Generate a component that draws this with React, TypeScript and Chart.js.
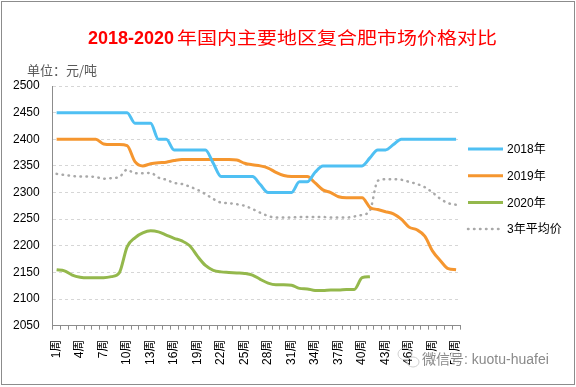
import { useEffect, useRef } from 'react';
import { Chart, registerables } from 'chart.js';

Chart.register(...registerables);

const TITLE = '2018-2020年国内主要地区复合肥市场价格对比';
const UNIT_LABEL = '单位：元/吨';
const WATERMARK = '微信号: kuotu-huafei';

const weeks = [
  '1周', '2周', '3周', '4周', '5周', '6周', '7周', '8周', '9周', '10周',
  '11周', '12周', '13周', '14周', '15周', '16周', '17周', '18周', '19周', '20周',
  '21周', '22周', '23周', '24周', '25周', '26周', '27周', '28周', '29周', '30周',
  '31周', '32周', '33周', '34周', '35周', '36周', '37周', '38周', '39周', '40周',
  '41周', '42周', '43周', '44周', '45周', '46周', '47周', '48周', '49周', '50周',
  '51周', '52周',
];

const seriesNames = ['2018年', '2019年', '2020年', '3年平均价'];

const price2018 = [
  2450, 2450, 2450, 2450, 2450, 2450, 2450, 2450, 2450, 2450,
  2430, 2430, 2430, 2400, 2400, 2380, 2380, 2380, 2380, 2380,
  2355, 2330, 2330, 2330, 2330, 2330, 2315, 2300, 2300, 2300,
  2300, 2320, 2320, 2338, 2350, 2350, 2350, 2350, 2350, 2350,
  2365, 2380, 2380, 2390, 2400, 2400, 2400, 2400, 2400, 2400,
  2400, 2400,
];

const price2019 = [
  2400, 2400, 2400, 2400, 2400, 2400, 2391, 2390, 2390, 2388,
  2358, 2350, 2354, 2356, 2357, 2360, 2362, 2362, 2362, 2362,
  2362, 2362, 2362, 2361, 2355, 2352, 2350, 2346, 2338, 2332,
  2330, 2330, 2330, 2318, 2305, 2300, 2292, 2290, 2290, 2290,
  2272, 2268, 2264, 2260, 2250, 2235, 2230, 2218, 2190, 2172,
  2157, 2155,
];

const price2020 = [
  2155, 2153, 2145, 2141, 2140, 2140, 2140, 2142, 2149, 2198,
  2215, 2224, 2228, 2226, 2220, 2214, 2209, 2200, 2180, 2163,
  2154, 2151, 2150, 2149, 2148, 2145, 2137, 2130, 2127, 2127,
  2126, 2120, 2119, 2116, 2116, 2117, 2117, 2118, 2118, 2140,
  2142, null, null, null, null, null, null, null, null, null,
  null, null,
];

const priceAvg = [
  2335, 2333, 2331, 2330, 2330, 2329, 2326, 2327, 2329, 2343,
  2336, 2336, 2337, 2328, 2324, 2318, 2316, 2311, 2305, 2297,
  2288, 2281, 2280, 2278, 2275, 2269, 2262, 2256, 2253, 2253,
  2253, 2254, 2254, 2254, 2254, 2253, 2253, 2253, 2255, 2258,
  2266, 2322, 2325, 2325, 2324, 2320, 2316, 2310, 2300, 2288,
  2280, 2277,
];

const yTicks = { min: 2050, max: 2500, step: 50 };

const COLORS = ['#4fc0f3', '#f5962f', '#94b84c', '#a9a9a9'];
const FONT_LATIN = '"Liberation Sans", "Noto Sans CJK SC", sans-serif';
const FONT_CJK = '"Noto Sans CJK SC", sans-serif';

const overlayPlugin = {
  id: 'overlay',
  afterDraw(chart: any) {
    const ctx: CanvasRenderingContext2D = chart.ctx;
    ctx.save();
    // outer border
    ctx.strokeStyle = '#8c8c8c';
    ctx.lineWidth = 1;
    ctx.strokeRect(1.5, 1.5, 573, 383);

    // title: latin part bold, CJK part horizontally stretched
    const m = TITLE.match(/^([0-9\-]+)(.*)$/);
    const latin = m ? m[1] : '';
    const cjk = m ? m[2] : TITLE;
    ctx.fillStyle = '#ff0000';
    ctx.textBaseline = 'alphabetic';
    ctx.textAlign = 'left';
    ctx.font = 'bold 18px "Liberation Sans"';
    ctx.fillText(latin, 88, 44);
    const lw = ctx.measureText(latin).width;
    const startX = 88 + lw + 3;
    ctx.font = '17px ' + FONT_CJK;
    const cw = ctx.measureText(cjk).width;
    const sx = (497 - startX) / cw;
    ctx.save();
    ctx.translate(startX, 44);
    ctx.scale(sx, 1);
    ctx.fillText(cjk, 0, 0);
    ctx.restore();

    // unit label
    ctx.fillStyle = '#595959';
    ctx.font = '13px ' + FONT_CJK;
    ctx.textBaseline = 'middle';
    ctx.fillText(UNIT_LABEL, 27, 70);

    // legend
    const ds = chart.data.datasets;
    ds.forEach((d: any, i: number) => {
      const y = 149 + i * 26.7;
      ctx.save();
      ctx.strokeStyle = d.borderColor;
      ctx.lineWidth = d.borderWidth;
      ctx.lineCap = d.borderDash ? 'round' : 'butt';
      ctx.setLineDash(d.borderDash || []);
      ctx.beginPath();
      ctx.moveTo(468, y);
      ctx.lineTo(503, y);
      ctx.stroke();
      ctx.restore();
      ctx.fillStyle = '#000';
      ctx.font = '12px ' + FONT_LATIN;
      ctx.textBaseline = 'middle';
      ctx.fillText(d.label, 507, y + 1);
    });

    // watermark (icon + text with white halo)
    ctx.strokeStyle = '#d0d0d0';
    ctx.lineWidth = 1;
    ctx.beginPath();
    ctx.ellipse(405, 354, 7, 6, 0, 0, Math.PI * 2);
    ctx.stroke();
    ctx.beginPath();
    ctx.ellipse(413, 362, 6, 5, 0, 0, Math.PI * 2);
    ctx.stroke();
    ctx.font = '14px ' + FONT_LATIN;
    ctx.textBaseline = 'middle';
    ctx.lineJoin = 'round';
    ctx.strokeStyle = 'rgba(255,255,255,0.9)';
    ctx.lineWidth = 3;
    ctx.strokeText(WATERMARK, 422, 360);
    ctx.fillStyle = '#8a8a8a';
    ctx.fillText(WATERMARK, 422, 360);
    ctx.restore();
  },
};

export default function App() {
  const ref = useRef<HTMLCanvasElement | null>(null);
  useEffect(() => {
    document.body.style.margin = '0';
    const canvas = ref.current;
    if (!canvas) return;
    Chart.defaults.font.family = FONT_LATIN;
    const values = [price2018, price2019, price2020, priceAvg];
    const chart = new Chart(canvas, {
      type: 'line',
      data: {
        labels: weeks,
        datasets: values.map((v, i) => ({
          label: seriesNames[i],
          data: v,
          borderColor: COLORS[i],
          backgroundColor: COLORS[i],
          borderWidth: i === 3 ? 2.5 : 3,
          borderDash: i === 3 ? [0.5, 5.5] : undefined,
          borderCapStyle: i === 3 ? 'round' : 'butt',
          pointRadius: 0,
          cubicInterpolationMode: 'monotone',
          fill: false,
          spanGaps: false,
        })),
      },
      options: {
        responsive: false,
        animation: false,
        layout: { padding: { left: 0, right: 116, top: 86, bottom: 12 } },
        plugins: {
          legend: { display: false },
          title: { display: false },
          tooltip: { enabled: false },
        },
        scales: {
          x: {
            type: 'category',
            offset: true,
            grid: {
              display: true,
              drawOnChartArea: false,
              drawTicks: true,
              tickLength: 4,
              color: '#8c8c8c',
              offset: true,
            },
            border: { display: true, color: '#8c8c8c' },
            ticks: {
              autoSkip: false,
              maxRotation: 90,
              minRotation: 90,
              padding: 10,
              color: '#000',
              font: { size: 12 },
              callback: (_v: any, i: number) => (i % 3 === 0 ? weeks[i] : ''),
            },
          },
          y: {
            min: yTicks.min,
            max: yTicks.max,
            ticks: {
              stepSize: yTicks.step,
              padding: 13,
              color: '#000',
              font: { size: 12 },
              callback: (v: any) => String(v),
            },
            grid: { color: '#d6d6d6', drawTicks: false },
            border: { display: true, color: '#8c8c8c', dash: [3, 3] },
          },
        },
      },
      plugins: [overlayPlugin],
    });
    return () => chart.destroy();
  }, []);
  return (
    <div style={{ position: 'absolute', left: 0, top: 0, width: 576, height: 387, background: '#fff' }}>
      <canvas ref={ref} width={576} height={387} style={{ display: 'block' }} />
    </div>
  );
}
